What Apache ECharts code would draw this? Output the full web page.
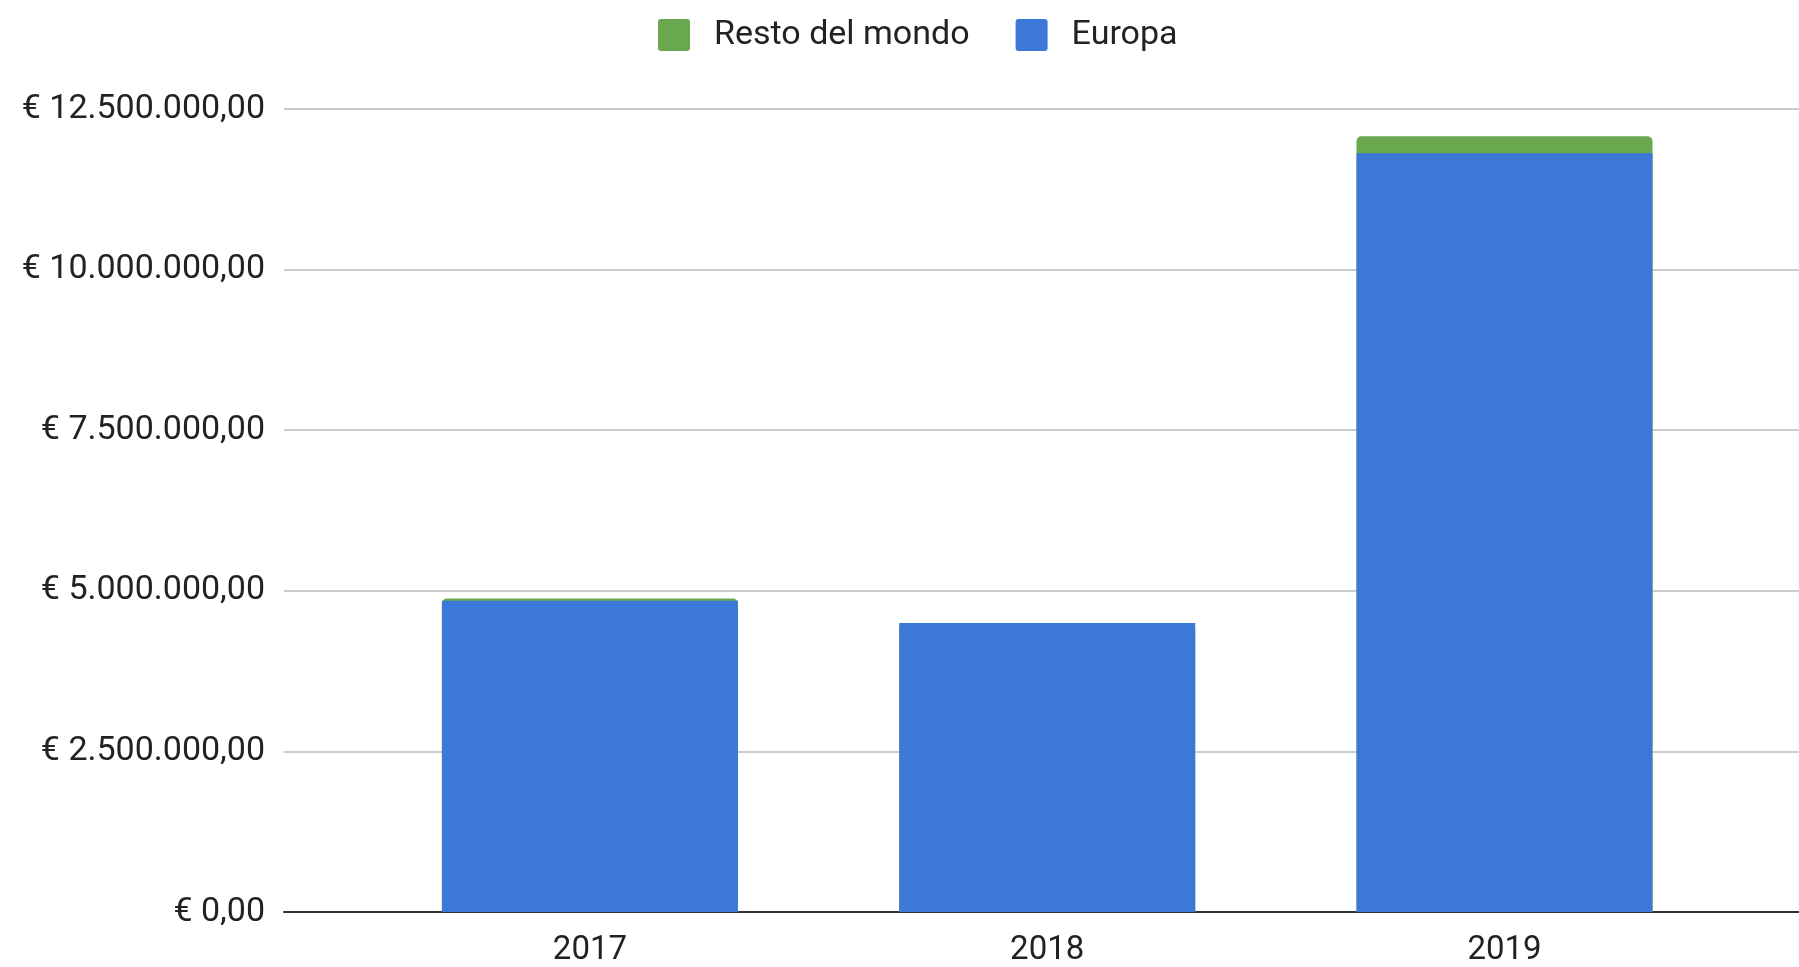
<!DOCTYPE html>
<html>
<head>
<meta charset="utf-8">
<title>Europa / Resto del mondo</title>
<script src="https://cdn.jsdelivr.net/npm/echarts@6/dist/echarts.min.js"></script>
<style>
  html, body { margin: 0; padding: 0; background: #fff; }
  #chart { width: 1799px; height: 967px; }
</style>
</head>
<body>
<div id="chart"></div>
<script>
// years on a continuous x axis, like the original
const years = [2017, 2018, 2019];
const europa = [4845000, 4500000, 11810000];
const restoDelMondo = [35000, 0, 265000];
const yTicks = [0, 2500000, 5000000, 7500000, 10000000, 12500000];

const FONT = 'Roboto, "Liberation Sans", Arial, sans-serif';

function euro(v) {
  const parts = v.toFixed(2).split('.');
  const int = parts[0].replace(/\B(?=(\d{3})+(?!\d))/g, '.');
  return '€ ' + int + ',' + parts[1];
}

// stack doesn't kick in on a value base axis, so the green bar is drawn
// at the full total, behind the blue one
const totals = years.map((y, i) => europa[i] + restoDelMondo[i]);

const chart = echarts.init(document.getElementById('chart'));

chart.setOption({
  animation: false,
  textStyle: { fontFamily: FONT },
  legend: {
    top: 13,
    left: 653,
    data: ['Resto del mondo', 'Europa'],
    itemWidth: 32,
    itemHeight: 32,
    itemGap: 46,
    icon: 'path://M3,0 L29,0 Q32,0 32,3 L32,29 Q32,32 29,32 L3,32 Q0,32 0,29 L0,3 Q0,0 3,0 Z',
    textStyle: { fontSize: 34, color: '#222', fontFamily: FONT, padding: [0, 0, 0, 19] }
  },
  grid: { left: 284, right: 0, top: 109, bottom: 54 },
  xAxis: {
    type: 'value',
    min: 2016.331,
    max: 2019.644,
    axisLine: { show: true, onZero: false, lineStyle: { color: '#333', width: 2 } },
    axisTick: { show: false },
    splitLine: { show: false },
    axisLabel: {
      customValues: years,
      formatter: v => String(v),
      fontSize: 33,
      color: '#222',
      margin: 22
    }
  },
  yAxis: {
    type: 'value',
    min: yTicks[0],
    max: yTicks[yTicks.length - 1],
    interval: yTicks[1] - yTicks[0],
    axisLine: { show: false },
    axisTick: { show: false },
    splitLine: { lineStyle: { color: '#ccc', width: 2 } },
    axisLabel: {
      formatter: euro,
      fontSize: 34,
      color: '#222',
      margin: 19
    }
  },
  series: [
    {
      name: 'Resto del mondo',
      type: 'bar',
      barWidth: 296,
      barGap: '-100%',
      z: 2,
      itemStyle: { color: '#6aa84f', borderRadius: [5, 5, 0, 0] },
      data: years.map((y, i) => [y, totals[i]])
    },
    {
      name: 'Europa',
      type: 'bar',
      barWidth: 296,
      barGap: '-100%',
      z: 3,
      itemStyle: { color: '#3c78d8' },
      data: years.map((y, i) => [y, europa[i]])
    }
  ]
});
</script>
</body>
</html>
